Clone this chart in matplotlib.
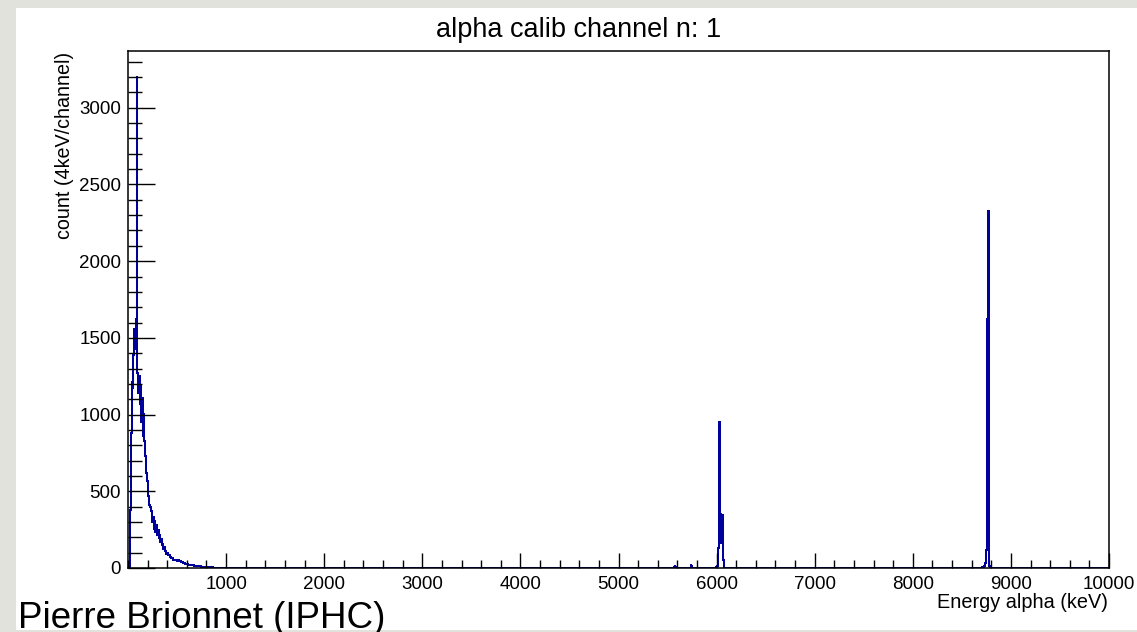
import matplotlib
matplotlib.use("Agg")
import matplotlib.pyplot as plt
from matplotlib.patches import Rectangle
from matplotlib.ticker import MultipleLocator, FixedLocator
import numpy as np

W, H = 1137, 632
plt.rcParams['font.family'] = ['Liberation Sans', 'DejaVu Sans']

# spectrum (counts per bin)
# low energy part: 8 keV bins starting at 0 keV
low_start, low_width = 0, 8
low_counts = [
    0, 0, 30, 380, 880, 1210, 1170, 1390, 1560, 1430,
    1620, 3210, 1270, 1140, 1250, 1070, 1190, 950, 1110, 860,
    1010, 830, 730, 620, 570, 500, 470, 410, 395, 370,
    345, 300, 330, 255, 310, 235, 280, 215, 250, 190,
    215, 170, 190, 150, 160, 125, 140, 108, 118, 92,
    100, 82, 84, 70, 74, 62, 64, 55, 58, 52,
    54, 50, 52, 48, 49, 46, 45, 42, 40, 37,
    35, 32, 30, 28, 26, 24, 22, 21, 19, 18,
    20, 19, 18, 17, 16, 15, 14, 13, 12, 12,
    11, 10, 10, 9, 9, 8, 8, 7, 7, 6,
    6, 6, 5, 5, 5, 4, 4, 4, 3, 3,
    3, 3, 2, 2, 2, 2, 2, 2, 1, 1,
    1, 1, 1, 1, 1,
]
# small bumps before the 6 MeV line: 4 keV bins
bump1_start, bump1_counts = 5568, [4, 12, 20, 8, 2]
bump2_start, bump2_counts = 5732, [3, 10, 25, 12, 3]
# 6 MeV doublet: 4 keV bins
peak1_start = 5994
peak1_counts = [2, 4, 7, 12, 25, 55, 130, 330, 950, 780, 520, 350, 230, 165,
                190, 270, 345, 310, 160, 50, 12, 3]
# 8.78 MeV line: 4 keV bins
peak2_start = 8700
peak2_counts = [2, 3, 4, 5, 6, 8, 10, 13, 17, 24, 35, 60, 120, 250, 720,
                1620, 2010, 2330, 965, 110, 12, 3]

segments = [
    (low_start, low_width, low_counts),
    (bump1_start, 4, bump1_counts),
    (bump2_start, 4, bump2_counts),
    (peak1_start, 4, peak1_counts),
    (peak2_start, 4, peak2_counts),
]
edges, vals = [0], []
for start, width, counts in segments:
    if start > edges[-1]:
        vals.append(0)
        edges.append(start)
    for c in counts:
        vals.append(c)
        edges.append(edges[-1] + width)
vals.append(0)
edges.append(10000)

fig = plt.figure(figsize=(W / 100, H / 100), dpi=100, facecolor='#e2e2dc')
fig.patches.append(Rectangle((16 / W, 1 - 630 / H), 1 - 16 / W, (630 - 8) / H,
                             transform=fig.transFigure, facecolor='white',
                             edgecolor='none', zorder=-10))
ax = fig.add_axes([128 / W, 1 - 568 / H, 981 / W, 517 / H])
ax.set_zorder(1)
ax.stairs(vals, edges, color='#00009c', linewidth=1.45)

ax.set_xlim(0, 10000)
ax.set_ylim(0, 3370)
ax.xaxis.set_major_locator(FixedLocator(np.arange(1000, 10001, 1000)))
ax.xaxis.set_minor_locator(MultipleLocator(200))
ax.yaxis.set_major_locator(MultipleLocator(500))
ax.yaxis.set_minor_locator(MultipleLocator(100))
ax.tick_params(axis='y', which='major', direction='in', length=19.5, width=1,
               labelsize=13.5, pad=5, right=False)
ax.tick_params(axis='y', which='minor', direction='in', length=10, width=1, right=False)
ax.tick_params(axis='x', which='major', direction='in', length=10.5, width=1,
               labelsize=13.5, pad=6, top=False)
ax.tick_params(axis='x', which='minor', direction='in', length=5.5, width=1, top=False)
for s in ax.spines.values():
    s.set_linewidth(1.1)

fig.text(579 / W, 1 - 30 / H, 'alpha calib channel n: 1', ha='center', va='center',
         fontsize=19.5)
fig.text(74 / W, 1 - 52 / H, 'count (4keV/channel)', rotation=90, ha='right', va='top',
         fontsize=14.2)
fig.text(1108 / W, 1 - 593 / H, 'Energy alpha (keV)', ha='right', va='top', fontsize=14.3)
fig.text(18 / W, 1 - 628 / H, 'Pierre Brionnet (IPHC)', ha='left', va='baseline',
         fontsize=26.5)

plt.savefig('out.png', dpi=100)
